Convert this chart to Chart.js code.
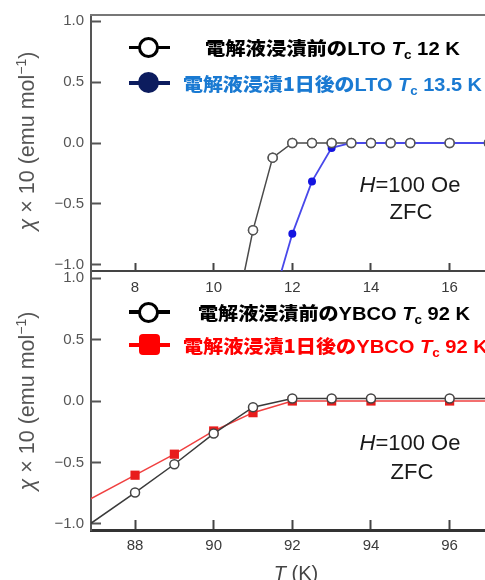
<!DOCTYPE html>
<html lang="ja">
<head>
<meta charset="utf-8">
<title>LTO / YBCO susceptibility</title>
<script src="https://cdn.jsdelivr.net/npm/chart.js@4.4.1/dist/chart.umd.min.js"></script>
<style>
html,body{margin:0;padding:0;background:#fff;}
#wrap{position:relative;width:485px;height:580px;overflow:hidden;background:#fff;font-family:"Liberation Sans",Arial,sans-serif;color:#222;}
.panel{position:absolute;left:0;width:485px;}
#p1{top:0;height:300px;}
#p2{top:250px;height:330px;}
canvas{display:block;}
.legline{position:absolute;left:129px;width:41px;}
.mk{position:absolute;box-sizing:border-box;}
.legtxt{position:absolute;white-space:nowrap;transform-origin:0 50%;line-height:22px;height:22px;}
.jp{font-family:"Noto Sans CJK JP","Noto Sans CJK SC",sans-serif;font-weight:900;font-size:18px;}
.lat{font-family:"Liberation Sans",Arial,sans-serif;font-weight:700;font-size:18px;}
.lat sub{font-size:12px;vertical-align:-4px;line-height:0;}
.ytitle{position:absolute;white-space:nowrap;font-size:21.5px;color:#555;transform:translate(-50%,-50%) rotate(-90deg);line-height:24px;}
.ytitle sup{font-size:14px;vertical-align:8px;line-height:0;}
.ann{position:absolute;white-space:nowrap;font-size:22px;color:#1a1a1a;transform:translate(-50%,-50%);line-height:24px;}
.xtitle{position:absolute;white-space:nowrap;font-size:20px;color:#444;transform:translate(-50%,-50%);line-height:24px;}
</style>
</head>
<body>
<div id="wrap">
  <div class="panel" id="p2"><canvas id="c2" width="485" height="330"></canvas></div>
  <div class="panel" id="p1"><canvas id="c1" width="485" height="300"></canvas></div>

  <!-- top legend -->
  <div class="legline" style="top:45.5px;height:3.5px;background:#000;"></div>
  <div class="mk" style="left:137.5px;top:36.5px;width:21px;height:21px;border:3px solid #000;border-radius:50%;background:#fff;"></div>
  <div class="legtxt" data-w="255" style="left:205px;top:36px;color:#000;"><span class="jp">電解液浸漬前の</span><span class="lat">LTO <i>T</i><sub>c</sub> 12 K</span></div>

  <div class="legline" style="top:80.5px;height:4px;background:#0c1c5e;"></div>
  <div class="mk" style="left:137.5px;top:72px;width:21px;height:21px;border-radius:50%;background:#0c1c5e;"></div>
  <div class="legtxt" data-w="299" style="left:183px;top:71.5px;color:#1a7ad2;"><span class="jp">電解液浸漬1日後の</span><span class="lat">LTO <i>T</i><sub>c</sub> 13.5 K</span></div>

  <!-- bottom legend -->
  <div class="legline" style="top:310px;height:3.5px;background:#000;"></div>
  <div class="mk" style="left:137.5px;top:301.5px;width:21px;height:21px;border:3px solid #000;border-radius:50%;background:#fff;"></div>
  <div class="legtxt" data-w="272" style="left:198px;top:301px;color:#000;"><span class="jp">電解液浸漬前の</span><span class="lat">YBCO <i>T</i><sub>c</sub> 92 K</span></div>

  <div class="legline" style="top:342.5px;height:4px;background:#ff0000;"></div>
  <div class="mk" style="left:138.5px;top:334px;width:21px;height:21px;border-radius:4px;background:#ff0000;"></div>
  <div class="legtxt" data-w="305" style="left:183px;top:333.5px;color:#ff0000;"><span class="jp">電解液浸漬1日後の</span><span class="lat">YBCO <i>T</i><sub>c</sub> 92 K</span></div>

  <!-- axis titles -->
  <div class="ytitle" style="left:27px;top:141px;"><i>χ</i> × 10 (emu mol<sup>−1</sup>)</div>
  <div class="ytitle" style="left:27px;top:401px;"><i>χ</i> × 10 (emu mol<sup>−1</sup>)</div>
  <div class="xtitle" style="left:296px;top:573px;"><i>T</i> (K)</div>

  <!-- annotations -->
  <div class="ann" style="left:410px;top:185px;"><i>H</i>=100 Oe</div>
  <div class="ann" style="left:411px;top:212px;">ZFC</div>
  <div class="ann" style="left:410px;top:443px;"><i>H</i>=100 Oe</div>
  <div class="ann" style="left:412px;top:472px;">ZFC</div>
</div>

<script>
// ---- data ----
const ltoTemps       = [10.5, 11.0, 11.5, 12.0, 12.5, 13.0, 13.5, 14.0, 14.5, 15.0, 16.0, 17.0];
const ltoBefore      = [-1.50, -0.715, -0.12, 0, 0, 0, 0, 0, 0, 0, 0, 0];
const ltoAfterTemps  = [11.5, 12.0, 12.5, 13.0, 13.5, 14.0, 14.5, 15.0, 16.0, 17.0];
const ltoAfter       = [-1.30, -0.745, -0.315, -0.04, 0, 0, 0, 0, 0, 0];

const ybcoTemps      = [86.5, 88, 89, 90, 91, 92, 93, 94, 96, 98];
const ybcoBefore     = [-1.08, -0.745, -0.515, -0.265, -0.05, 0.02, 0.02, 0.02, 0.02, 0.02];
const ybcoAfter      = [-0.86, -0.604, -0.433, -0.244, -0.095, 0.0, 0.0, 0.0, 0.0, 0.0];

const xTicksLTO  = [8, 10, 12, 14, 16];
const xTicksYBCO = [88, 90, 92, 94, 96];
const yTicks     = [-1.0, -0.5, 0.0, 0.5, 1.0];

const labelsLTO  = ['電解液浸漬前のLTO Tc 12 K', '電解液浸漬1日後のLTO Tc 13.5 K'];
const labelsYBCO = ['電解液浸漬前のYBCO Tc 92 K', '電解液浸漬1日後のYBCO Tc 92 K'];

// ---- helpers ----
Chart.defaults.font.family = "'Liberation Sans', Arial, sans-serif";
const toXY = (xs, ys) => xs.map((x, i) => ({x: x, y: ys[i]}));
const fmtY = v => (v < 0 ? '\u2212' : '') + Math.abs(v).toFixed(1);

function scales(o) {
  const s = {
    x: {
      type: 'linear', position: 'bottom', min: o.xmin, max: o.xmax,
      afterBuildTicks: sc => { sc.ticks = o.xTicks.map(v => ({value: v})); },
      afterFit: sc => { sc.height = o.xHeight; sc.paddingLeft = 0; sc.paddingRight = 0; },
      ticks: {autoSkip: false, maxRotation: 0, padding: o.xPad, color: '#3a3a3a', font: {size: 15},
              callback: v => String(v)},
      grid: {display: true, drawOnChartArea: false, drawTicks: true, tickLength: -o.xTickLen,
             tickColor: '#444', tickWidth: 2},
      border: {display: true, color: o.xBorderColor, width: o.xBorderWidth}
    },
    y: {
      type: 'linear', position: 'left', min: o.ymin, max: o.ymax,
      afterBuildTicks: sc => { sc.ticks = yTicks.map(v => ({value: v})); },
      afterFit: sc => { sc.width = 91; sc.paddingTop = 0; sc.paddingBottom = 0; },
      ticks: {padding: 17, color: '#555', font: {size: 15}, callback: fmtY},
      grid: {display: true, drawOnChartArea: false, drawTicks: true, tickLength: -10,
             tickColor: '#555', tickWidth: 2},
      border: {display: true, color: '#555', width: 2}
    }
  };
  if (o.topBorder) {
    s.xt = {
      type: 'linear', position: 'top', min: 0, max: 1,
      afterFit: sc => { sc.height = 0; sc.paddingLeft = 0; sc.paddingRight = 0; },
      ticks: {display: false},
      grid: {display: false},
      border: {display: true, color: '#777', width: 2}
    };
  }
  return s;
}

const commonPlugins = {legend: {display: false}, tooltip: {enabled: false}};

const blackPointsOnTop = {
  id: 'blackPointsOnTop',
  afterDatasetsDraw(chart) {
    const meta = chart.getDatasetMeta(0);
    const ctx = chart.ctx;
    const a = chart.chartArea;
    ctx.save();
    ctx.beginPath();
    ctx.rect(a.left, a.top, a.right - a.left, a.bottom - a.top);
    ctx.clip();
    meta.data.forEach(el => el.draw(ctx, a));
    ctx.restore();
  }
};

new Chart(document.getElementById('c1'), {
  type: 'line',
  data: {
    datasets: [
      {label: labelsLTO[0], data: toXY(ltoTemps, ltoBefore), order: 1, clip: 0,
       borderColor: '#4a4a4a', borderWidth: 1.5, tension: 0,
       pointRadius: 4.5, pointBorderWidth: 1.5, pointBorderColor: '#555', pointBackgroundColor: '#fff'},
      {label: labelsLTO[1], data: toXY(ltoAfterTemps, ltoAfter), order: 0, clip: 0,
       borderColor: '#4848ea', borderWidth: 1.8, tension: 0,
       pointRadius: 4, pointBorderWidth: 0, pointBackgroundColor: '#1414e0'}
    ]
  },
  options: {
    responsive: false, animation: false, events: [],
    layout: {autoPadding: false, padding: {top: 15, left: 0, right: 0, bottom: 0}},
    plugins: commonPlugins,
    scales: scales({xmin: 6.88, xmax: 16.9, xTicks: xTicksLTO, ymin: -1.05, ymax: 1.05,
                    xHeight: 29, xPad: 16, xTickLen: 8, xBorderColor: '#444', xBorderWidth: 2,
                    topBorder: true})
  },
  plugins: [blackPointsOnTop]
});

new Chart(document.getElementById('c2'), {
  type: 'line',
  data: {
    datasets: [
      {label: labelsYBCO[0], data: toXY(ybcoTemps, ybcoBefore), clip: 0,
       borderColor: '#3a3a3a', borderWidth: 1.5, tension: 0,
       pointRadius: 4.5, pointBorderWidth: 1.5, pointBorderColor: '#444', pointBackgroundColor: '#fff'},
      {label: labelsYBCO[1], data: toXY(ybcoTemps, ybcoAfter), clip: 0,
       borderColor: '#f04040', borderWidth: 1.5, tension: 0,
       pointStyle: 'rect', pointRadius: 6.5, pointBorderWidth: 0, pointBackgroundColor: '#e81c1c'}
    ]
  },
  options: {
    responsive: false, animation: false, events: [],
    layout: {autoPadding: false, padding: {top: 22, left: 0, right: 0, bottom: 0}},
    plugins: commonPlugins,
    scales: scales({xmin: 86.88, xmax: 96.9, xTicks: xTicksYBCO, ymin: -1.05, ymax: 1.05,
                    xHeight: 50, xPad: 17, xTickLen: 10, xBorderColor: '#333', xBorderWidth: 3,
                    topBorder: false})
  }
});

// stretch legend rows horizontally to the widths seen in the reference
document.querySelectorAll('.legtxt').forEach(el => {
  const w = el.getBoundingClientRect().width;
  const target = +el.dataset.w;
  if (w > 0) el.style.transform = 'scaleX(' + (target / w).toFixed(3) + ')';
});
</script>
</body>
</html>
